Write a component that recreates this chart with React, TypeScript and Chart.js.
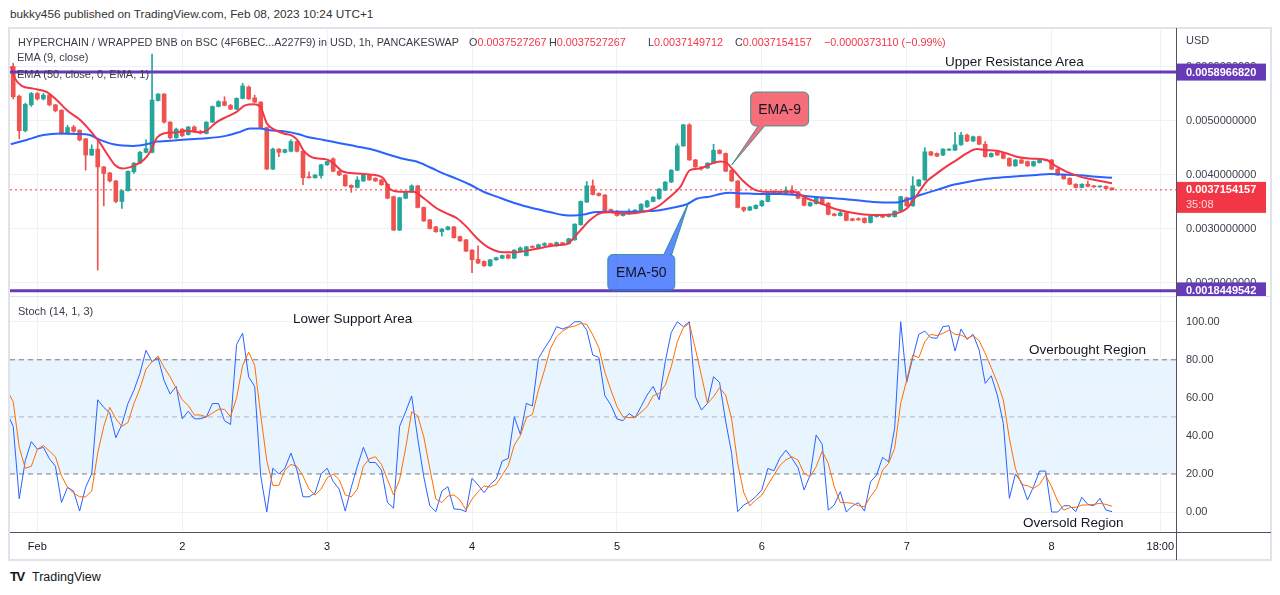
import React, { useEffect, useRef } from 'react';
import { Chart, registerables } from 'chart.js';

Chart.register(...registerables);

const FONT = '"Liberation Sans", Arial, sans-serif';

// ---- time axis: hours since Feb 1 00:00 (UTC+1) ----
const X_MIN = -4.53;
const X_MAX = 188.6;
const DAY_TICKS = [0, 24, 48, 72, 96, 120, 144, 168, 186];
const DAY_LABELS = ['Feb', '2', '3', '4', '5', '6', '7', '8', '18:00'];

// ---- price data (hourly candles, in thousandths of USD) ----
const FIRST_CANDLE_HOUR = -4;
const OPEN = [
  6.00, 5.45, 4.81, 5.29, 5.50, 5.40, 5.47, 5.29, 5.19, 4.76,
  4.88, 4.82, 4.66, 4.36, 4.47, 4.14, 4.03, 3.88, 3.50, 3.70,
  4.05, 4.21, 4.41, 4.41, 5.37, 5.49, 4.97, 4.68, 4.84, 4.74,
  4.88, 4.79, 4.76, 4.97, 5.26, 5.35, 5.28, 5.21, 5.41, 5.62,
  5.42, 5.34, 4.87, 4.10, 4.47, 4.41, 4.43, 4.61, 4.43, 3.96,
  3.94, 3.98, 4.18, 4.29, 4.06, 3.99, 3.80, 3.76, 3.88, 3.99,
  3.93, 3.90, 3.82, 3.59, 2.97, 3.56, 3.68, 3.79, 3.39, 3.16,
  3.03, 2.94, 2.98, 3.03, 2.85, 2.79, 2.60, 2.43, 2.39, 2.31,
  2.42, 2.45, 2.51, 2.45, 2.58, 2.50, 2.67, 2.63, 2.69, 2.72,
  2.68, 2.73, 2.72, 2.79, 3.07, 3.49, 3.79, 3.65, 3.62, 3.35,
  3.32, 3.24, 3.27, 3.28, 3.31, 3.40, 3.50, 3.55, 3.71, 3.86,
  4.08, 4.53, 4.92, 4.27, 4.14, 4.12, 4.21, 4.45, 4.39, 4.08,
  3.88, 3.39, 3.34, 3.37, 3.42, 3.50, 3.65, 3.66, 3.65, 3.71,
  3.68, 3.57, 3.42, 3.46, 3.56, 3.47, 3.27, 3.24, 3.29, 3.18,
  3.18, 3.19, 3.11, 3.22, 3.24, 3.22, 3.22, 3.32, 3.57, 3.42,
  3.79, 3.90, 4.42, 4.39, 4.36, 4.45, 4.45, 4.55, 4.73, 4.62,
  4.70, 4.56, 4.33, 4.42, 4.39, 4.30, 4.16, 4.27, 4.24, 4.16,
  4.22, 4.27, 4.27, 4.10, 3.99, 3.93, 3.82, 3.76, 3.82, 3.79,
  3.77, 3.78, 3.7527267,
];
const CLOSE = [
  5.44, 4.81, 5.30, 5.50, 5.40, 5.47, 5.29, 5.18, 4.76, 4.87,
  4.80, 4.64, 4.36, 4.47, 4.14, 4.02, 3.88, 3.50, 3.70, 4.06,
  4.21, 4.41, 4.48, 5.38, 5.49, 4.97, 4.68, 4.84, 4.72, 4.88,
  4.80, 4.77, 4.97, 5.26, 5.35, 5.28, 5.21, 5.41, 5.64, 5.40,
  5.34, 4.87, 4.10, 4.47, 4.41, 4.46, 4.61, 4.43, 3.94, 3.94,
  3.99, 4.18, 4.24, 4.06, 3.99, 3.79, 3.76, 3.90, 3.99, 3.90,
  3.88, 3.81, 3.56, 2.97, 3.57, 3.68, 3.79, 3.39, 3.14, 3.00,
  2.94, 2.99, 3.03, 2.83, 2.77, 2.58, 2.42, 2.36, 2.31, 2.42,
  2.46, 2.50, 2.45, 2.60, 2.64, 2.66, 2.65, 2.70, 2.72, 2.69,
  2.74, 2.72, 2.81, 3.08, 3.50, 3.79, 3.63, 3.61, 3.32, 3.31,
  3.24, 3.28, 3.31, 3.34, 3.45, 3.51, 3.58, 3.73, 3.86, 4.08,
  4.53, 4.92, 4.27, 4.14, 4.12, 4.21, 4.45, 4.39, 4.06, 3.88,
  3.39, 3.34, 3.40, 3.43, 3.51, 3.68, 3.69, 3.68, 3.71, 3.65,
  3.56, 3.43, 3.48, 3.56, 3.45, 3.26, 3.24, 3.29, 3.15, 3.15,
  3.16, 3.11, 3.23, 3.24, 3.21, 3.26, 3.32, 3.59, 3.42, 3.79,
  3.90, 4.42, 4.36, 4.34, 4.47, 4.47, 4.55, 4.73, 4.62, 4.70,
  4.56, 4.33, 4.39, 4.36, 4.30, 4.16, 4.27, 4.21, 4.16, 4.24,
  4.27, 4.26, 4.10, 3.99, 3.92, 3.82, 3.76, 3.82, 3.78, 3.77,
  3.78, 3.74, 3.7154157,
];
const HIGH = [
  6.06, 5.47, 5.32, 5.52, 5.52, 5.50, 5.49, 5.30, 5.20, 4.91,
  4.91, 4.83, 4.67, 4.55, 4.61, 4.15, 4.04, 3.89, 3.71, 4.07,
  4.22, 4.43, 4.64, 6.23, 5.50, 5.50, 4.98, 4.86, 4.85, 4.89,
  4.90, 4.82, 4.98, 5.27, 5.37, 5.44, 5.30, 5.42, 5.69, 5.64,
  5.47, 5.35, 4.88, 4.49, 4.48, 4.47, 4.64, 4.62, 4.44, 4.05,
  4.00, 4.19, 4.25, 4.31, 4.07, 4.00, 3.81, 3.96, 4.00, 4.00,
  3.94, 3.91, 3.83, 3.60, 3.58, 3.69, 3.81, 3.80, 3.40, 3.17,
  3.04, 3.00, 3.04, 3.04, 2.86, 2.80, 2.61, 2.68, 2.40, 2.43,
  2.47, 2.51, 2.52, 2.61, 2.66, 2.67, 2.68, 2.71, 2.74, 2.73,
  2.75, 2.74, 2.82, 3.09, 3.51, 3.87, 3.90, 3.66, 3.63, 3.36,
  3.33, 3.29, 3.36, 3.35, 3.46, 3.52, 3.59, 3.74, 3.87, 4.09,
  4.57, 4.93, 4.94, 4.28, 4.15, 4.22, 4.56, 4.46, 4.40, 4.09,
  3.89, 3.40, 3.41, 3.44, 3.52, 3.69, 3.70, 3.69, 3.77, 3.79,
  3.69, 3.58, 3.49, 3.57, 3.57, 3.48, 3.28, 3.32, 3.30, 3.19,
  3.20, 3.20, 3.24, 3.25, 3.25, 3.27, 3.33, 3.60, 3.58, 3.96,
  3.91, 4.50, 4.43, 4.40, 4.48, 4.48, 4.78, 4.78, 4.75, 4.71,
  4.71, 4.61, 4.40, 4.43, 4.40, 4.31, 4.28, 4.28, 4.25, 4.25,
  4.28, 4.28, 4.28, 4.11, 4.00, 3.94, 3.83, 3.83, 3.88, 3.80,
  3.79, 3.79, 3.7527267,
];
const LOW = [
  5.40, 4.66, 4.79, 5.26, 5.38, 5.38, 5.27, 5.16, 4.74, 4.75,
  4.78, 4.62, 4.08, 4.35, 2.23, 3.42, 3.86, 3.48, 3.37, 3.69,
  4.02, 4.20, 4.40, 4.40, 5.36, 4.95, 4.66, 4.67, 4.70, 4.73,
  4.78, 4.75, 4.75, 4.96, 5.25, 5.27, 5.20, 5.20, 5.40, 5.39,
  5.33, 4.86, 4.09, 4.09, 4.33, 4.40, 4.42, 4.42, 3.81, 3.93,
  3.93, 3.93, 4.17, 4.05, 3.98, 3.78, 3.67, 3.75, 3.87, 3.89,
  3.87, 3.80, 3.55, 2.96, 2.96, 3.55, 3.67, 3.38, 3.13, 2.99,
  2.93, 2.86, 2.97, 2.82, 2.76, 2.57, 2.18, 2.35, 2.30, 2.30,
  2.41, 2.44, 2.44, 2.44, 2.57, 2.49, 2.64, 2.62, 2.68, 2.68,
  2.67, 2.71, 2.71, 2.78, 3.06, 3.48, 3.62, 3.60, 3.31, 3.30,
  3.23, 3.23, 3.26, 3.27, 3.30, 3.39, 3.49, 3.54, 3.70, 3.85,
  4.07, 4.52, 4.26, 4.13, 4.08, 4.11, 4.20, 4.38, 4.05, 3.87,
  3.38, 3.31, 3.33, 3.36, 3.41, 3.49, 3.64, 3.65, 3.64, 3.64,
  3.55, 3.42, 3.41, 3.45, 3.44, 3.25, 3.23, 3.23, 3.14, 3.14,
  3.15, 3.10, 3.10, 3.21, 3.20, 3.21, 3.21, 3.31, 3.41, 3.41,
  3.78, 3.89, 4.35, 4.33, 4.35, 4.44, 4.44, 4.54, 4.61, 4.61,
  4.55, 4.32, 4.32, 4.35, 4.29, 4.15, 4.15, 4.20, 4.15, 4.15,
  4.21, 4.25, 4.09, 3.98, 3.91, 3.81, 3.75, 3.75, 3.77, 3.76,
  3.76, 3.73, 3.7149712,
];

// ---- EMA lines (read at points along the curves) ----
const EMA9_HOURS = [-4.4, -3.7, -2.6, -0.7, 1.5, 3.2, 4.9, 7.1, 9.3, 10.4, 11.5, 12.9, 14.2, 15.9, 17.6, 18.7, 19.8, 20.9, 23.1, 24.7, 26.9, 28, 29.7, 31.4, 33, 34.4, 35.8, 36.9, 38, 39.1, 40.8, 42.2, 43.2, 44.1, 45.7, 47.9, 49, 50.7, 52.9, 55.1, 57.3, 58.4, 60.1, 62.3, 64, 66.2, 67.8, 69.5, 71.1, 72.8, 75, 77.2, 79.4, 81.6, 83.8, 86, 87.7, 88.8, 89.9, 91.6, 93.2, 94.9, 96.5, 98.2, 99.8, 101.5, 103.1, 104.8, 106.5, 108.1, 109.8, 111.4, 113.1, 114.2, 115.3, 117, 118.6, 120.8, 123, 125.2, 127.4, 129.7, 131.9, 134.1, 136.3, 138.5, 140.1, 142.3, 144, 145.7, 147.3, 149, 150.6, 152.3, 153.9, 155.6, 157.3, 158.9, 160.6, 162.2, 163.9, 165.5, 167.2, 168.8, 170.5, 172.2, 173.8, 176, 178];
const EMA9_VALUES = [6.00, 5.78, 5.64, 5.59, 5.53, 5.38, 5.19, 5.01, 4.74, 4.58, 4.39, 4.17, 4.11, 4.16, 4.27, 4.42, 4.68, 4.76, 4.78, 4.81, 4.78, 4.81, 4.97, 5.07, 5.16, 5.28, 5.30, 5.26, 4.95, 4.84, 4.76, 4.72, 4.62, 4.44, 4.31, 4.28, 4.21, 4.05, 4.02, 4.00, 3.93, 3.73, 3.68, 3.68, 3.56, 3.37, 3.28, 3.19, 3.03, 2.82, 2.63, 2.56, 2.56, 2.60, 2.65, 2.69, 2.71, 2.82, 2.96, 3.16, 3.28, 3.30, 3.28, 3.28, 3.30, 3.34, 3.43, 3.59, 3.77, 4.08, 4.11, 4.19, 4.24, 4.21, 4.08, 3.87, 3.73, 3.68, 3.68, 3.68, 3.56, 3.47, 3.37, 3.31, 3.27, 3.25, 3.25, 3.28, 3.37, 3.62, 3.87, 4.02, 4.15, 4.27, 4.39, 4.47, 4.45, 4.44, 4.39, 4.33, 4.30, 4.29, 4.27, 4.15, 4.05, 3.98, 3.93, 3.88, 3.84];
const EMA50_HOURS = [-4.4, -1.8, 1, 3.8, 6.5, 8.7, 10.4, 12.6, 15.9, 18.1, 19.8, 21.4, 24.7, 28, 31.4, 33.6, 35.2, 36.9, 38.5, 40.8, 43.5, 44.6, 47.4, 50.1, 52.9, 56.2, 58.4, 60.6, 62.8, 65.1, 67.2, 69.5, 71.7, 73.9, 76.1, 78.3, 80.5, 82.7, 85, 87.1, 88.8, 90.5, 92.1, 94.3, 96.5, 98.7, 100.9, 103.1, 105.4, 107.6, 109.2, 111.4, 113.1, 114.7, 117, 119.7, 123, 125.8, 128.5, 131.9, 135.2, 138.5, 142.3, 144, 146.2, 148.9, 151.7, 154.5, 157.3, 160, 162.8, 165.5, 167.7, 169.9, 172.1, 175.4, 178];
const EMA50_VALUES = [4.56, 4.64, 4.73, 4.76, 4.75, 4.73, 4.64, 4.56, 4.53, 4.56, 4.61, 4.62, 4.65, 4.67, 4.72, 4.79, 4.85, 4.85, 4.82, 4.80, 4.74, 4.70, 4.64, 4.58, 4.52, 4.44, 4.36, 4.29, 4.24, 4.13, 4.02, 3.92, 3.81, 3.68, 3.59, 3.50, 3.42, 3.36, 3.30, 3.25, 3.24, 3.26, 3.30, 3.31, 3.31, 3.31, 3.32, 3.34, 3.39, 3.45, 3.55, 3.59, 3.64, 3.66, 3.65, 3.64, 3.64, 3.62, 3.59, 3.56, 3.53, 3.49, 3.48, 3.53, 3.62, 3.71, 3.81, 3.87, 3.92, 3.95, 3.97, 3.99, 4.01, 4.00, 3.99, 3.96, 3.94];

// ---- horizontal levels (thousandths of USD) ----
const UPPER_LEVEL = 5.896682;
const LOWER_LEVEL = 1.8449542;
const LAST_PRICE = 3.7154157;
const PRICE_TICKS = [2, 3, 4, 5, 6];
const EMA9_CALLOUT = { hour: 115.0, price: 4.176, text: 'EMA-9' };
const EMA50_CALLOUT = { hour: 107.9, price: 3.49, text: 'EMA-50' };

// ---- Stochastic (14,1,3) ----
const FIRST_STOCH_HOUR = -5;
const STOCH_K = [
  52, 45, 7, 27, 37, 33, 34, 28, 24, 5,
  13, 11, 0.5, 13, 20, 59, 55, 52, 39, 46,
  57, 64, 73, 85, 79, 81, 69, 62, 66, 49,
  53, 49, 49, 50, 57, 57, 48, 46, 88, 94,
  71, 66, 19, 0, 23, 20, 23, 31, 22, 8,
  8, 10, 20, 23, 16, 12, 0.5, 13, 24, 34,
  26, 26, 22, 5, 2, 45, 52.7, 61, 38.7, 18.6,
  3.3, 0.2, 11, 13.3, 1.6, 1.4, 0.2, 17.7, 14.2, 10.2,
  14.5, 17.3, 26.8, 28.2, 50.1, 40.8, 57.1, 55.7, 80.7, 86,
  90.9, 97.4, 96.2, 97.4, 100, 100, 95.6, 82.5, 81.3, 61.1,
  56.2, 48.9, 48, 51.8, 49.6, 55.4, 61.5, 66, 59, 79,
  94.4, 100, 97.4, 100, 60.6, 53.6, 57.1, 71.1, 68.1, 47.8,
  30.8, 0.2, 3.7, 5.4, 8.1, 11.6, 22.9, 21.7, 28.4, 32.5,
  28.2, 23.3, 11.6, 19.4, 40.5, 35.6, 1, 3.7, 10.7, 0,
  3.2, 4.9, 0.5, 15.9, 19.4, 28.7, 26.4, 44, 100, 68.1,
  81.1, 93.4, 95.1, 91.6, 91.3, 97.4, 97.9, 84.6, 96.2, 90.7,
  93.4, 85.1, 67.6, 71.6, 61.5, 46.6, 7.2, 20, 15.6, 6.3,
  13.3, 21.5, 21.5, 0, 0, 3.3, 3.3, 0.2, 7.7, 4,
  3.3, 7.2, 1, 0.2,
];
const STOCH_D = [
  64, 58, 34, 23, 24, 33, 35, 32, 29, 19,
  13, 10, 8, 8, 11, 31, 45, 55, 49, 45,
  47, 57, 65, 75, 79, 82, 76, 71, 65, 59,
  56, 51, 51, 50, 52, 54, 54, 50, 60, 77,
  84, 77, 51, 27, 14, 14, 22, 25, 24, 19,
  12, 9, 12, 18, 20, 17, 9, 8, 12, 24,
  28, 29, 25, 17, 9, 17, 33.5, 52.7, 50.6, 39.6,
  23, 6.8, 5, 8.4, 9, 6.3, 1, 6.8, 10.7, 13.7,
  13.1, 14.5, 19.4, 24.3, 35.2, 40.1, 49.6, 51.3, 64.1, 74.6,
  86, 92.1, 95.1, 97, 97.7, 99.1, 98.6, 93, 86.4, 73.4,
  64.1, 55.4, 50.1, 49.6, 49.6, 52.4, 55.4, 61.1, 62.4, 66.7,
  76.4, 89.5, 96.9, 99.1, 85.7, 71.6, 57.1, 60.6, 65.3, 61.5,
  48.9, 25.6, 10.3, 3.3, 6.3, 8.9, 14.2, 19.4, 24.5, 27.5,
  29, 27.3, 20.3, 18.6, 23.8, 32, 25.6, 13.3, 5, 4.9,
  4.6, 3.3, 2.8, 8.1, 12.4, 22, 25.6, 33.5, 57.1, 69.4,
  82.5, 81.1, 89.5, 93.4, 92.7, 93.9, 95.6, 93.4, 93, 91.3,
  92.7, 90, 83.4, 75.8, 68.1, 58.9, 38.7, 22.9, 14.5, 13.8,
  12.4, 14.5, 19.4, 13.3, 5.8, 1, 2.3, 2.5, 3.7, 3.7,
  4, 4.6, 4, 3,
];
const STOCH_TICKS = [0, 20, 40, 60, 80, 100];
const OVERBOUGHT = 80;
const MIDDLE = 50;
const OVERSOLD = 20;

// ---- styles ----
const UP = '#26a69a';
const DOWN = '#ef5350';
const PURPLE = '#673ab7';
const GRID = '#eef1f6';
const AXIS_TEXT = '#3b3e48';
const TEXT = '#131722';
const RED_TEXT = '#f23645';

function calloutPath(ctx: any, x: number, y: number, w: number, h: number, r: number, tail: any) {
  ctx.beginPath();
  ctx.moveTo(x + r, y);
  if (tail.side === 'top') { ctx.lineTo(tail.a, y); ctx.lineTo(tail.tx, tail.ty); ctx.lineTo(tail.b, y); }
  ctx.lineTo(x + w - r, y);
  ctx.arcTo(x + w, y, x + w, y + r, r);
  ctx.lineTo(x + w, y + h - r);
  ctx.arcTo(x + w, y + h, x + w - r, y + h, r);
  if (tail.side === 'bottom') { ctx.lineTo(tail.b, y + h); ctx.lineTo(tail.tx, tail.ty); ctx.lineTo(tail.a, y + h); }
  ctx.lineTo(x + r, y + h);
  ctx.arcTo(x, y + h, x, y + h - r, r);
  ctx.lineTo(x, y + r);
  ctx.arcTo(x, y, x + r, y, r);
  ctx.closePath();
}

const calloutPlugin = {
  id: 'callouts',
  afterDatasetsDraw(chart: any) {
    const { ctx, scales } = chart;
    const draw = (c: any, fill: string, boxFn: (tx: number, ty: number) => any) => {
      const tx = scales.x.getPixelForValue(c.hour);
      const ty = scales.y.getPixelForValue(c.price);
      const b = boxFn(tx, ty);
      ctx.save();
      calloutPath(ctx, b.x, b.y, b.w, b.h, 5, { ...b.tail, tx, ty });
      ctx.fillStyle = fill;
      ctx.fill();
      ctx.strokeStyle = 'rgba(38,140,140,0.85)';
      ctx.lineWidth = 1;
      ctx.stroke();
      ctx.fillStyle = TEXT;
      ctx.font = `14px ${FONT}`;
      ctx.textAlign = 'center';
      ctx.textBaseline = 'middle';
      ctx.fillText(c.text, b.x + b.w / 2, b.y + b.h / 2 + 1);
      ctx.restore();
    };
    draw(EMA9_CALLOUT, 'rgba(242,54,69,0.72)', (tx, ty) => ({
      x: tx + 19, y: ty - 73, w: 58, h: 34,
      tail: { side: 'bottom', a: tx + 26.5, b: tx + 33 },
    }));
    draw(EMA50_CALLOUT, 'rgba(41,98,255,0.75)', (tx, ty) => ({
      x: tx - 81, y: ty + 52.5, w: 67, h: 36,
      tail: { side: 'top', a: tx - 25, b: tx - 17 },
    }));
  },
};

const priceLabelsPlugin = {
  id: 'priceLabels',
  afterDraw(chart: any) {
    const { ctx, scales, chartArea } = chart;
    const x0 = chartArea.right + 1;
    const w = 89;
    ctx.save();
    ctx.font = `bold 11px ${FONT}`;
    ctx.textBaseline = 'middle';
    ctx.textAlign = 'left';
    [UPPER_LEVEL, LOWER_LEVEL].forEach((v) => {
      const y = scales.y.getPixelForValue(v);
      ctx.fillStyle = PURPLE;
      ctx.fillRect(x0, y - 8.5, w, 17);
      ctx.fillStyle = '#ffffff';
      ctx.fillText((v / 1000).toFixed(10), x0 + 9, y + 0.5);
    });
    const yl = scales.y.getPixelForValue(LAST_PRICE);
    ctx.fillStyle = '#f23645';
    ctx.fillRect(x0, yl - 8, w, 31);
    ctx.fillStyle = '#ffffff';
    ctx.fillText((LAST_PRICE / 1000).toFixed(10), x0 + 9, yl + 0.5);
    ctx.fillStyle = 'rgba(255,255,255,0.8)';
    ctx.font = `11px ${FONT}`;
    ctx.fillText('35:08', x0 + 9, yl + 15);
    ctx.restore();
  },
};

const bandPlugin = {
  id: 'stochBand',
  beforeDraw(chart: any) {
    const { ctx, chartArea, scales } = chart;
    const y1 = scales.y.getPixelForValue(OVERBOUGHT);
    const y2 = scales.y.getPixelForValue(OVERSOLD);
    ctx.save();
    ctx.fillStyle = 'rgba(33,150,243,0.1)';
    ctx.fillRect(chartArea.left, y1, chartArea.right - chartArea.left, y2 - y1);
    ctx.restore();
  },
};

function xScale(showLabels: boolean) {
  return {
    type: 'linear',
    min: X_MIN,
    max: X_MAX,
    offset: false,
    afterBuildTicks: (s: any) => { s.ticks = DAY_TICKS.map((v) => ({ value: v })); },
    ticks: {
      display: showLabels,
      autoSkip: false,
      maxRotation: 0,
      padding: 8,
      color: TEXT,
      font: { size: 11, family: FONT },
      callback: (_v: any, i: number) => DAY_LABELS[i],
    },
    grid: { color: GRID, drawTicks: false, offset: false },
    border: { display: false },
    afterFit: (s: any) => {
      s.height = showLabels ? 28 : 0;
      s.paddingLeft = 0; s.paddingRight = 0;
    },
  };
}

function yScale(min: number, max: number, ticks: number[], fmt: (v: number) => string) {
  return {
    type: 'linear',
    position: 'right',
    min,
    max,
    afterBuildTicks: (s: any) => { s.ticks = ticks.map((v) => ({ value: v })); },
    ticks: {
      callback: (v: any) => fmt(Number(v)),
      color: AXIS_TEXT,
      font: { size: 11, family: FONT },
      padding: 10,
    },
    grid: { color: GRID, drawTicks: false },
    border: { display: false },
    afterFit: (s: any) => { s.width = 104; s.paddingTop = 0; s.paddingBottom = 0; },
  };
}

function Txt({ x, y, size = 11, color = TEXT, weight = 400, children }: any) {
  return (
    <div style={{
      position: 'absolute', left: x, top: y - size * 0.6, fontSize: size,
      lineHeight: `${size * 1.2}px`, color, whiteSpace: 'nowrap', fontWeight: weight,
    }}>{children}</div>
  );
}

export default function App() {
  const priceRef = useRef<HTMLCanvasElement>(null);
  const stochRef = useRef<HTMLCanvasElement>(null);

  useEffect(() => {
    Chart.defaults.font.family = FONT;
    const candleX = OPEN.map((_, i) => FIRST_CANDLE_HOUR + i);
    const candleColor = OPEN.map((o, i) => (CLOSE[i] >= o ? UP : DOWN));
    const bodies = OPEN.map((o, i) => ({ x: candleX[i], y: [o, CLOSE[i]] }));
    const wicks = OPEN.map((_, i) => ({ x: candleX[i], y: [LOW[i], HIGH[i]] }));
    const ema9 = EMA9_HOURS.map((h, i) => ({ x: h, y: EMA9_VALUES[i] }));
    const ema50 = EMA50_HOURS.map((h, i) => ({ x: h, y: EMA50_VALUES[i] }));
    const hline = (v: number) => [{ x: X_MIN, y: v }, { x: X_MAX, y: v }];

    const price = new Chart(priceRef.current as HTMLCanvasElement, {
      type: 'bar',
      data: {
        datasets: [
          { type: 'line', data: hline(UPPER_LEVEL), borderColor: PURPLE, borderWidth: 3, pointRadius: 0, order: 0 },
          { type: 'line', data: hline(LOWER_LEVEL), borderColor: PURPLE, borderWidth: 3, pointRadius: 0, order: 0 },
          { type: 'line', data: ema9, borderColor: '#f23645', borderWidth: 2, pointRadius: 0, cubicInterpolationMode: 'monotone', order: 1 },
          { type: 'line', data: ema50, borderColor: '#2962ff', borderWidth: 2, pointRadius: 0, cubicInterpolationMode: 'monotone', order: 2 },
          { type: 'bar', data: bodies, backgroundColor: candleColor, barThickness: 4, minBarLength: 1, grouped: false, order: 3 },
          { type: 'bar', data: wicks, backgroundColor: candleColor, barThickness: 1, grouped: false, order: 4 },
          { type: 'line', data: hline(LAST_PRICE), borderColor: '#f23645', borderWidth: 1, borderDash: [2, 3], pointRadius: 0, order: 5 },
        ],
      } as any,
      options: {
        responsive: false,
        animation: false,
        devicePixelRatio: 1,
        events: [],
        layout: { autoPadding: false, padding: { left: 10, right: 0, top: 2, bottom: 0 } },
        plugins: { legend: { display: false }, tooltip: { enabled: false } },
        scales: {
          x: xScale(false),
          y: yScale(1.75, 6.676, PRICE_TICKS, (v) => (v / 1000).toFixed(10)),
        },
      } as any,
      plugins: [priceLabelsPlugin, calloutPlugin],
    });

    const stochX = STOCH_K.map((_, i) => FIRST_STOCH_HOUR + i);
    const kData = STOCH_K.map((v, i) => ({ x: stochX[i], y: v }));
    const dData = STOCH_D.map((v, i) => ({ x: stochX[i], y: v }));

    const stoch = new Chart(stochRef.current as HTMLCanvasElement, {
      type: 'line',
      data: {
        datasets: [
          { data: dData, borderColor: '#ff6d00', borderWidth: 1, pointRadius: 0, order: 1 },
          { data: kData, borderColor: '#2962ff', borderWidth: 1, pointRadius: 0, order: 2 },
          { data: hline(OVERBOUGHT), borderColor: '#787b86', borderWidth: 1, borderDash: [5, 4], pointRadius: 0, order: 3 },
          { data: hline(MIDDLE), borderColor: 'rgba(120,123,134,0.5)', borderWidth: 1, borderDash: [5, 4], pointRadius: 0, order: 3 },
          { data: hline(OVERSOLD), borderColor: '#787b86', borderWidth: 1, borderDash: [5, 4], pointRadius: 0, order: 3 },
        ],
      } as any,
      options: {
        responsive: false,
        animation: false,
        devicePixelRatio: 1,
        events: [],
        layout: { autoPadding: false, padding: { left: 10, right: 0, top: 0, bottom: 0 } },
        plugins: { legend: { display: false }, tooltip: { enabled: false } },
        scales: {
          x: xScale(true),
          y: yScale(-10.5, 113, STOCH_TICKS, (v) => v.toFixed(2)),
        },
      } as any,
      plugins: [bandPlugin],
    });

    return () => { price.destroy(); stoch.destroy(); };
  }, []);

  return (
    <div style={{ position: 'fixed', left: 0, top: 0, width: 1280, height: 595, background: '#ffffff', overflow: 'hidden', fontFamily: FONT }}>
      <Txt x={10} y={14} size={11.8} color="#333">bukky456 published on TradingView.com, Feb 08, 2023 10:24 UTC+1</Txt>
      <div style={{ position: 'absolute', left: 8, top: 27, width: 1264, height: 534, border: '2px solid #e0e3eb', boxSizing: 'border-box' }} />
      <canvas ref={priceRef} width={1280} height={268} style={{ position: 'absolute', left: 0, top: 28, width: 1280, height: 268 }} />
      <canvas ref={stochRef} width={1280} height={263} style={{ position: 'absolute', left: 0, top: 297, width: 1280, height: 263 }} />
      <div style={{ position: 'absolute', left: 10, top: 296, width: 1262, height: 1, background: '#e0e3eb' }} />
      <div style={{ position: 'absolute', left: 1176, top: 28, width: 1, height: 532, background: '#50535e' }} />
      <div style={{ position: 'absolute', left: 10, top: 532, width: 1261, height: 1, background: '#50535e' }} />

      <Txt x={18} y={42} size={10.8} color="#3a3d47">HYPERCHAIN / WRAPPED BNB on BSC (4F6BEC...A227F9) in USD, 1h, PANCAKESWAP</Txt>
      <Txt x={469} y={42} size={10.8} color="#3a3d47">O<span style={{ color: RED_TEXT }}>0.0037527267</span></Txt>
      <Txt x={549} y={42} size={10.8} color="#3a3d47">H<span style={{ color: RED_TEXT }}>0.0037527267</span></Txt>
      <Txt x={648} y={42} size={10.8} color="#3a3d47">L<span style={{ color: RED_TEXT }}>0.0037149712</span></Txt>
      <Txt x={735} y={42} size={10.8} color="#3a3d47">C<span style={{ color: RED_TEXT }}>0.0037154157</span></Txt>
      <Txt x={824} y={42} size={10.8} color={RED_TEXT}>−0.0000373110 (−0.99%)</Txt>
      <Txt x={17} y={58} color="#3a3d47">EMA (9, close)</Txt>
      <Txt x={17} y={75} color="#3a3d47">EMA (50, close, 0, EMA, 1)</Txt>
      <Txt x={1186} y={41} color={AXIS_TEXT}>USD</Txt>

      <Txt x={945} y={62} size={13.5}>Upper Resistance Area</Txt>
      <Txt x={293} y={319} size={13.5}>Lower Support Area</Txt>
      <Txt x={1029} y={350} size={13.5}>Overbought Region</Txt>
      <Txt x={1023} y={523} size={13.5}>Oversold Region</Txt>
      <Txt x={18} y={312} color="#3a3d47">Stoch (14, 1, 3)</Txt>

      <Txt x={10} y={577} size={13} weight={700}><span style={{ letterSpacing: '-1.5px' }}>TV</span></Txt>
      <Txt x={32} y={577} size={12.5}>TradingView</Txt>
    </div>
  );
}
